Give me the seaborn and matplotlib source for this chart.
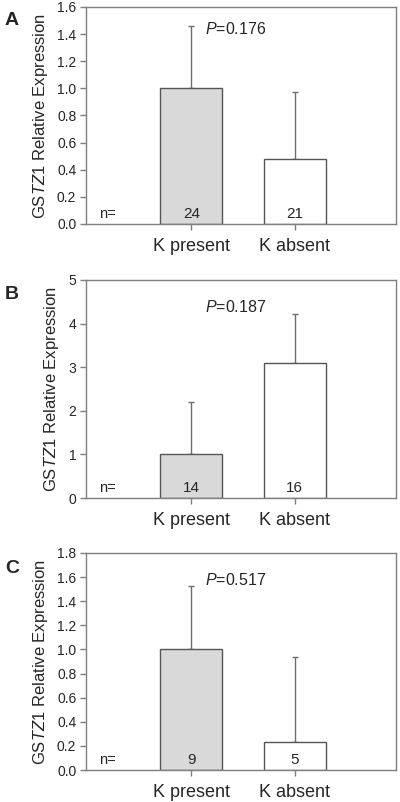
import matplotlib
matplotlib.use("Agg")
import matplotlib.pyplot as plt
import seaborn as sns
import pandas as pd

# Werte
groups = ["K present", "K absent"]
panels = ["A", "B", "C"]
means_a = [1.0, 0.48]
upper_a = [1.46, 0.97]
n_a = [24, 21]
p_a = "0.176"
means_b = [1.0, 3.1]
upper_b = [2.2, 4.22]
n_b = [14, 16]
p_b = "0.187"
means_c = [1.0, 0.235]
upper_c = [1.53, 0.94]
n_c = [9, 5]
p_c = "0.517"
ylims = [(0, 1.6), (0, 5), (0, 1.8)]
yticks = [[0, 0.2, 0.4, 0.6, 0.8, 1.0, 1.2, 1.4, 1.6],
          [0, 1, 2, 3, 4, 5],
          [0, 0.2, 0.4, 0.6, 0.8, 1.0, 1.2, 1.4, 1.6, 1.8]]
tick_fmt = ["{:.1f}", "{:.0f}", "{:.1f}"]

sns.set_style("white")
plt.rcParams["font.family"] = ["Liberation Sans", "DejaVu Sans"]
plt.rcParams["mathtext.fontset"] = "custom"
plt.rcParams["mathtext.it"] = "Liberation Sans:italic"
plt.rcParams["mathtext.rm"] = "Liberation Sans"

fig = plt.figure(figsize=(4.0, 8.02), dpi=100)
boxes = [[0.215, 0.7207, 0.775, 0.2706],
         [0.215, 0.3790, 0.775, 0.2720],
         [0.215, 0.0399, 0.775, 0.2706]]
data = [(means_a, upper_a, n_a, p_a), (means_b, upper_b, n_b, p_b), (means_c, upper_c, n_c, p_c)]
p_y = [1.44, 4.38, 1.58]
label_y = [0.985, 0.643, 0.302]

spine_col = "#7f7f7f"
for i, (means, upper, ns, pval) in enumerate(data):
    ax = fig.add_axes(boxes[i])
    df = pd.DataFrame({"group": groups, "value": means})
    sns.barplot(data=df, x="group", y="value", hue="group", order=groups,
                palette=["#d9d9d9", "white"], width=0.6, edgecolor="#555555",
                linewidth=1.0, legend=False, ax=ax, zorder=2)
    err = [u - m for u, m in zip(upper, means)]
    ax.errorbar(range(len(groups)), means, yerr=[[0] * len(err), err], fmt="none",
                ecolor="#6e6e6e", elinewidth=1.0, capsize=2.5, capthick=1.0, zorder=1)
    ax.set_xlim(-1.02, 1.98)
    ax.set_ylim(*ylims[i])
    ax.set_yticks(yticks[i])
    ax.set_yticklabels([tick_fmt[i].format(t) for t in yticks[i]], fontsize=10)
    ax.set_xticks(range(len(groups)))
    ax.set_xticklabels(groups, fontsize=13)
    ax.tick_params(axis="both", direction="out", length=4, width=1, color=spine_col,
                   left=True, bottom=True, pad=3)
    ax.tick_params(axis="x", pad=6)
    for sp in ax.spines.values():
        sp.set_color(spine_col)
        sp.set_linewidth(1.0)
    ax.set_xlabel("")
    ax.set_ylabel(r"GS$\it{TZ1}$ Relative Expression", fontsize=12, labelpad=5)
    ymax = ylims[i][1]
    ax.text(-0.81, 0.045 * ymax, "n=", fontsize=10.5, ha="center", va="center")
    for x, n in enumerate(ns):
        ax.text(x, 0.045 * ymax, str(n), fontsize=11, ha="center", va="center")
    ax.text(0.43, p_y[i], r"$\it{P}$=" + pval, fontsize=11.5, ha="center", va="center")
    fig.text(0.012, label_y[i], panels[i], fontsize=14, fontweight="bold",
             ha="left", va="top")

fig.savefig("out.png", dpi=100)
